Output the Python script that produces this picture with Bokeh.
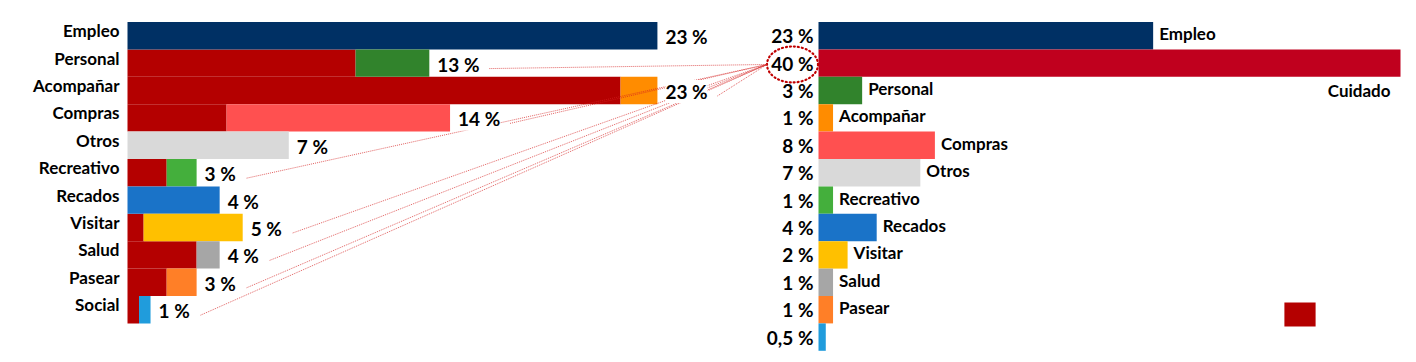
from bokeh.plotting import figure
from bokeh.models import Range1d, ColumnDataSource, Legend, LegendItem
from bokeh.core.properties import value
from bokeh.embed import file_html
from bokeh.resources import INLINE

# ---------------- data ----------------
left_categories = ["Empleo", "Personal", "Acompañar", "Compras", "Otros", "Recreativo",
                   "Recados", "Visitar", "Salud", "Pasear", "Social"]
left_cuidado = [0.0, 9.9, 21.4, 4.3, 0.0, 1.7, 0.0, 0.7, 3.0, 1.7, 0.5]
left_own = [23.0, 3.2, 1.6, 9.7, 7.0, 1.3, 4.0, 4.3, 1.0, 1.3, 0.5]
left_labels = ["23 %", "13 %", "23 %", "14 %", "7 %", "3 %", "4 %", "5 %", "4 %", "3 %", "1 %"]
left_colors = ["#003064", "#31832C", "#FF8C00", "#FF5050", "#D9D9D9", "#44AF3C",
               "#1A73C8", "#FFC000", "#A6A6A6", "#FF7F27", "#209CDC"]

right_categories = ["Empleo", "Cuidado", "Personal", "Acompañar", "Compras", "Otros",
                    "Recreativo", "Recados", "Visitar", "Salud", "Pasear", "Social"]
right_values = [23, 40, 3, 1, 8, 7, 1, 4, 2, 1, 1, 0.5]
right_labels = ["23 %", "40 %", "3 %", "1 %", "8 %", "7 %", "1 %", "4 %", "2 %", "1 %", "1 %", "0,5 %"]
right_names = ["Empleo", "", "Personal", "Acompañar", "Compras", "Otros",
               "Recreativo", "Recados", "Visitar", "Salud", "Pasear", ""]
right_colors = ["#003064", "#C0001E", "#31832C", "#FF8C00", "#FF5050", "#D9D9D9",
                "#44AF3C", "#1A73C8", "#FFC000", "#A6A6A6", "#FF7F27", "#209CDC"]

CUIDADO_COLOR = "#B40000"
LINK_COLOR = "#D42020"
FONT = value("Lato")

# ---------------- layout constants (pixels) ----------------
W, H = 1410, 356
LS, RS = 23.04, 14.55          # px per percent unit (left / right chart)
L0, R0 = 127, 818              # frame x of zero for left / right chart
ROW, TOP = 27.4, 21.5          # row height, frame y of first row top

p = figure(width=W, height=H, output_backend="svg", toolbar_location=None,
           x_range=Range1d(-L0 / LS, (W - L0) / LS),
           y_range=Range1d(-0.5 + (H - TOP) / ROW, -0.5 - TOP / ROW),
           min_border=0, x_axis_type=None, y_axis_type=None)
p.extra_x_ranges = {"r": Range1d(-R0 / RS, (W - R0) / RS)}
p.grid.visible = False
p.outline_line_color = None
p.background_fill_color = "white"

# ---------------- left chart ----------------
li = list(range(len(left_categories)))
ltot = [c + o for c, o in zip(left_cuidado, left_own)]
lsrc = ColumnDataSource(dict(y=li, cat=left_categories, cu=left_cuidado,
                             tot=ltot, lab=left_labels, col=left_colors))
cu_r = p.hbar(y="y", left=0, right="cu", height=1.0, source=lsrc,
              fill_color=CUIDADO_COLOR, line_color=None)
p.hbar(y="y", left="cu", right="tot", height=1.0, source=lsrc,
       fill_color="col", line_color=None)
p.text(x=0, y="y", text="cat", source=lsrc, text_font=FONT, text_font_style="bold",
       text_font_size="17px", text_align="right", text_baseline="middle",
       x_offset=-8, y_offset=-5, text_color="black")

# ---------------- right chart ----------------
ri = list(range(len(right_categories)))
rsrc = ColumnDataSource(dict(y=ri, v=right_values, lab=right_labels,
                             name=right_names, col=right_colors))
p.hbar(y="y", left=0, right="v", height=1.0, source=rsrc, x_range_name="r",
       fill_color="col", line_color=None)
p.text(x=0, y="y", text="lab", source=rsrc, x_range_name="r", text_font=FONT,
       text_font_style="bold", text_font_size="19px", text_align="right",
       text_baseline="middle", x_offset=-5, y_offset=0, text_color="black")
p.text(x="v", y="y", text="name", source=rsrc, x_range_name="r", text_font=FONT,
       text_font_style="bold", text_font_size="17px", text_align="left",
       text_baseline="middle", x_offset=6, y_offset=-2, text_color="black")
ci = right_categories.index("Cuidado")
p.text(x=[right_values[ci]], y=[ci + 1], text=["Cuidado"], x_range_name="r",
       text_font=FONT, text_font_style="bold", text_font_size="17px",
       text_align="right", text_baseline="middle", x_offset=-10, text_color="black")

# ---------------- highlight ellipse + connectors ----------------
EW, EH = 51, 36
ecx = -26 / RS                              # centred on the "40 %" label
ecy = ci + 0.05
p.ellipse(x=[ecx], y=[ecy], width=EW, height=EH, width_units="screen",
          height_units="screen", x_range_name="r", fill_color=None,
          line_color="#C00000", line_width=2.2, line_dash="1 3", line_cap="round")
end_x = (R0 + ecx * RS - EW / 2 - L0) / LS
cx0, cy0, cx1, cy1 = [], [], [], []
for i, (c, t, lab) in enumerate(zip(left_cuidado, ltot, left_labels)):
    if c > 0:
        cx0.append(t + (20 + 10 * len(lab)) / LS)
        cy0.append(i + 0.2)
        cx1.append(end_x)
        cy1.append(ecy)
p.segment(x0=cx0, y0=cy0, x1=cx1, y1=cy1, line_color=LINK_COLOR, line_alpha=0.7,
          line_width=1, line_dash="1 1")

# left value labels on top of connectors (white box hides lines)
p.text(x="tot", y="y", text="lab", source=lsrc, text_font=FONT, text_font_style="bold",
       text_font_size="19px", text_align="left", text_baseline="middle",
       x_offset=8, y_offset=1, text_color="black", background_fill_color="white")

# ---------------- legend key ----------------
legend = Legend(items=[LegendItem(label=" ", renderers=[cu_r])], location=(1280, 27),
                glyph_width=39, glyph_height=30, padding=0, margin=0, spacing=0,
                label_standoff=0, label_width=0, label_height=0,
                label_text_font_size="1px", border_line_color=None,
                background_fill_alpha=0)
p.add_layout(legend)

open("out.html", "w").write(file_html(p, INLINE))
